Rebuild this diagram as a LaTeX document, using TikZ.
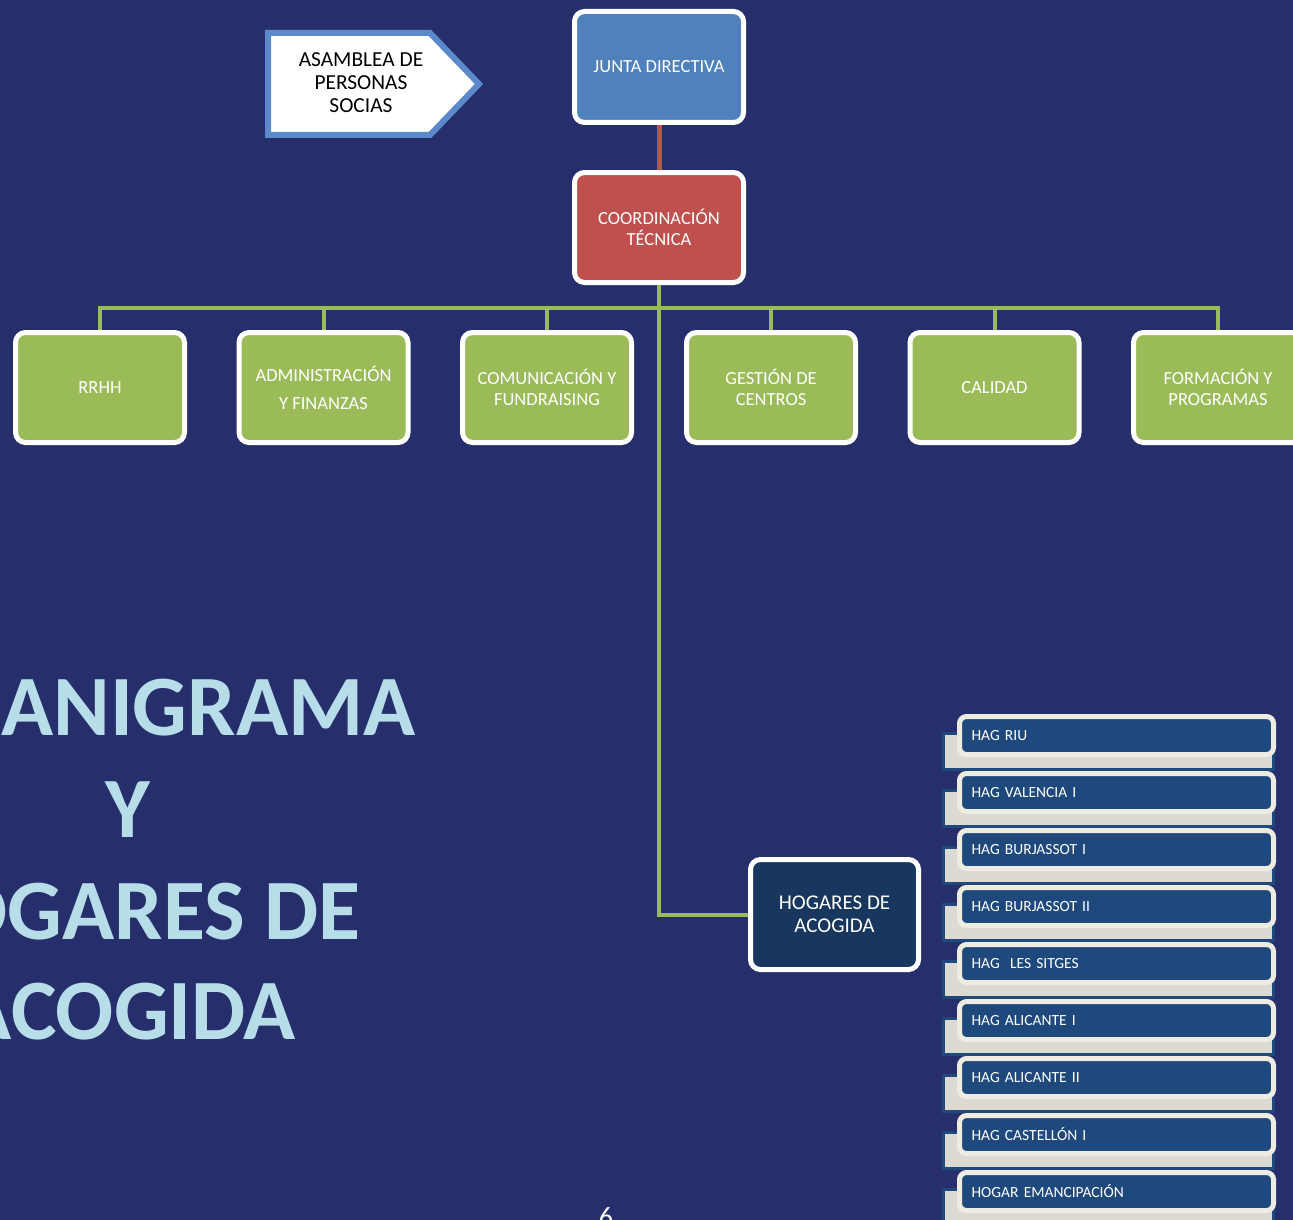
\documentclass[tikz,border=0pt]{standalone}
\usepackage{fontspec}
\setmainfont{Carlito}
\definecolor{bgblue}{HTML}{262F6B}
\definecolor{jblue}{HTML}{4F81BD}
\definecolor{cred}{HTML}{C0504D}
\definecolor{cgreen}{HTML}{9BBB59}
\definecolor{hnavy}{HTML}{17375E}
\definecolor{hagblue}{HTML}{1F497D}
\definecolor{cream}{HTML}{EEECE1}
\definecolor{hgray}{HTML}{DCDAD3}
\definecolor{ttl}{HTML}{B7DEE8}
\definecolor{asmblue}{HTML}{5A8ACB}
\tikzset{
  orgbox/.style={draw=white, line width=5pt, rounded corners=10pt, text=white,
    minimum width=169pt, minimum height=110pt, align=center, inner sep=2pt,
    font=\fontsize{18.5}{21}\selectfont},
  greenbox/.style={orgbox, fill=cgreen},
  gline/.style={draw=cgreen, line width=4pt},
  rline/.style={draw=cred, line width=5pt},
  hagfront/.style={draw=cream, fill=hagblue, line width=5pt, rounded corners=7pt,
    minimum height=38pt, text width=290pt, inner xsep=12pt, align=left, text=white,
    font=\fontsize{15.5}{17}\selectfont},
  hagback/.style={draw=hagblue, fill=hgray, line width=3pt},
  titletext/.style={text=ttl, font=\bfseries\fontsize{86}{102}\selectfont, align=center}
}
\begin{document}
\begin{tikzpicture}[x=1pt,y=-1pt]
\useasboundingbox (0,0) rectangle (1293,1220);
\clip (0,0) rectangle (1293,1220);
\fill[bgblue] (0,0) rectangle (1293,1220);

% Asamblea arrow
\draw[asmblue, line width=6pt, fill=white, line join=miter]
  (268,33) -- (430,33) -- (479,84) -- (430,135) -- (268,135) -- cycle;
\node[align=center, font=\fontsize{21.4}{23}\selectfont, text=black] (asm) at (361,83)
  {ASAMBLEA DE\\PERSONAS\\SOCIAS};

% Top boxes
\node[orgbox, fill=jblue, minimum height=111pt] (jd) at (659,67) {JUNTA DIRECTIVA};
\node[orgbox, fill=cred] (ct) at (659,227.5) {COORDINACIÓN\\TÉCNICA};
\draw[rline] (jd.south) -- (ct.north);

% Department boxes
\node[greenbox] (b1) at (100,387.5) {RRHH};
\node[greenbox, font=\fontsize{18.5}{28}\selectfont] (b2) at (323.5,387.5) {ADMINISTRACIÓN\\Y FINANZAS};
\node[greenbox] (b3) at (547,387.5) {COMUNICACIÓN Y\\FUNDRAISING};
\node[greenbox] (b4) at (771,387.5) {GESTIÓN DE\\CENTROS};
\node[greenbox] (b5) at (994.5,387.5) {CALIDAD};
\node[greenbox] (b6) at (1218,387.5) {FORMACIÓN Y\\PROGRAMAS};

\coordinate (bus) at (659,308);
\foreach \b in {b1,b2,b3,b4,b5,b6} {
  \draw[gline] (bus) -| (\b.north);
}

% Hogares de acogida
\node[orgbox, fill=hnavy, minimum width=168pt, font=\fontsize{21}{23}\selectfont] (hog) at (834.5,914.5) {HOGARES DE\\ACOGIDA};
\draw[gline] (ct.south) |- (hog.west);

% HAG list
\foreach \t [count=\i from 0] in {HAG RIU,HAG VALENCIA I,HAG BURJASSOT I,HAG BURJASSOT II,HAG\ \ LES SITGES,HAG ALICANTE I,HAG ALICANTE II,HAG CASTELLÓN I,HOGAR EMANCIPACIÓN} {
  \pgfmathsetmacro{\top}{714+57*\i}
  \draw[hagback] (943,\top+19) rectangle (1273,\top+55);
  \node[hagfront] (hag\i) at (1116.5,\top+21.5) {\t};
}

% Title
\node[titletext, anchor=base] (t1) at (128,735) {ORGANIGRAMA};
\node[titletext, anchor=base] (t2) at (128,837) {Y};
\node[titletext, anchor=base] (t3) at (128,939) {HOGARES DE};
\node[titletext, anchor=base] (t4) at (128,1039) {ACOGIDA};

% Page number
\node[text=white, font=\fontsize{28}{30}\selectfont, anchor=base] (pg) at (606,1226) {6};
\end{tikzpicture}
\end{document}
